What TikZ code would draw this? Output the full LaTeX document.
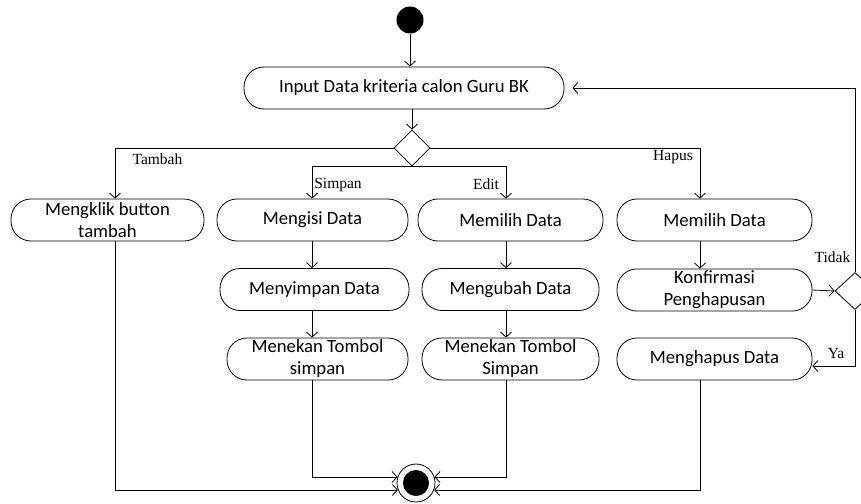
\documentclass[tikz,border=0pt]{standalone}
\usepackage{fontspec}
\setmainfont{Carlito}
\newfontfamily\lblfont{Liberation Serif}
\usetikzlibrary{shapes.geometric,arrows.meta}

\tikzset{
  act/.style={draw, rounded corners=20pt, minimum height=42pt, inner sep=2pt,
    align=center, font=\fontsize{18.7}{22}\selectfont},
  dec/.style={draw, diamond, minimum width=36pt, minimum height=36pt, inner sep=0pt},
  lbl/.style={font=\lblfont\fontsize{15.5}{17}\selectfont, inner sep=0pt},
  arr/.style={-{Straight Barb[length=5pt,width=11pt]}},
}

\begin{document}
\begin{tikzpicture}[x=1pt, y=-1pt, line width=0.8pt]
\useasboundingbox (0,0) rectangle (861,503);

% start, end
\node[circle, fill, minimum size=27pt, inner sep=0pt] (start) at (410,20) {};
\node[circle, draw, minimum size=38pt, inner sep=0pt] (end) at (416,483) {};
\node[circle, fill, minimum size=26pt, inner sep=0pt] (endin) at (end) {};

% activities
\node[act, minimum width=320pt] (input) at (404,88) {Input Data kriteria calon Guru BK};
\node[dec] (dec1) at (412,148) {};

\node[act, minimum width=193pt] (klik) at (107.5,220) {Mengklik button\\tambah};
\node[act, minimum width=191pt] (isi) at (312.5,220) {Mengisi Data};
\node[act, minimum width=185pt] (pilih1) at (510.5,220) {Memilih Data};
\node[act, minimum width=195pt] (pilih2) at (714.5,220) {Memilih Data};

\node[act, minimum width=189pt] (simpan) at (314.5,289.5) {Menyimpan Data};
\node[act, minimum width=177pt] (ubah) at (510.5,289.5) {Mengubah Data};
\node[act, minimum width=195pt] (konf) at (714.5,290) {Konfirmasi\\Penghapusan};

\node[act, minimum width=181pt] (tombol1) at (317.5,359) {Menekan Tombol\\simpan};
\node[act, minimum width=177pt] (tombol2) at (510.5,359) {Menekan Tombol\\Simpan};
\node[act, minimum width=195pt] (hapus) at (714.5,359) {Menghapus Data};

\node[dec, minimum width=40pt, minimum height=37pt] (dec2) at (855,291) {};

% columns
\coordinate (cA) at (115,0);
\coordinate (cB) at (312,0);
\coordinate (cC) at (506,0);
\coordinate (cD) at (700,0);

% flows
\draw[arr] (start) -- (start |- input.north);
\draw[arr] (input.south -| dec1) -- (dec1.north);
\draw[arr] (dec1.west) -| (cA |- klik.north);
\draw[arr] (dec1.east) -| (cD |- pilih2.north);
\draw[arr] (dec1.south) -| (cB |- isi.north);
\draw[arr] (dec1.south) -| (cC |- pilih1.north);

\draw[arr] (cB |- isi.south) -- (cB |- simpan.north);
\draw[arr] (cB |- simpan.south) -- (cB |- tombol1.north);
\draw[arr] (cC |- pilih1.south) -- (cC |- ubah.north);
\draw[arr] (cC |- ubah.south) -- (cC |- tombol2.north);
\draw[arr] (cD |- pilih2.south) -- (cD |- konf.north);

\draw[arr] (konf.east) -- (dec2.west);
\draw[arr] (dec2.north) |- ([xshift=8pt]input.east);
\draw[arr] (dec2.south) |- ([yshift=-7pt]hapus.east);

\draw[arr] (cA |- klik.south) |- (end.201);
\draw[arr] (cB |- tombol1.south) |- (end.162);
\draw[arr] (cC |- tombol2.south) |- (end.18);
\draw[arr] (cD |- hapus.south) |- (end.339);

% guard labels
\node[lbl] (lTambah) at (157.5,159) {Tambah};
\node[lbl] (lSimpan) at (338,185) {Simpan};
\node[lbl] (lEdit) at (486,184) {Edit};
\node[lbl] (lHapus) at (673,157) {Hapus};
\node[lbl] (lTidak) at (832.5,257) {Tidak};
\node[lbl] (lYa) at (836,353) {Ya};
\end{tikzpicture}
\end{document}
